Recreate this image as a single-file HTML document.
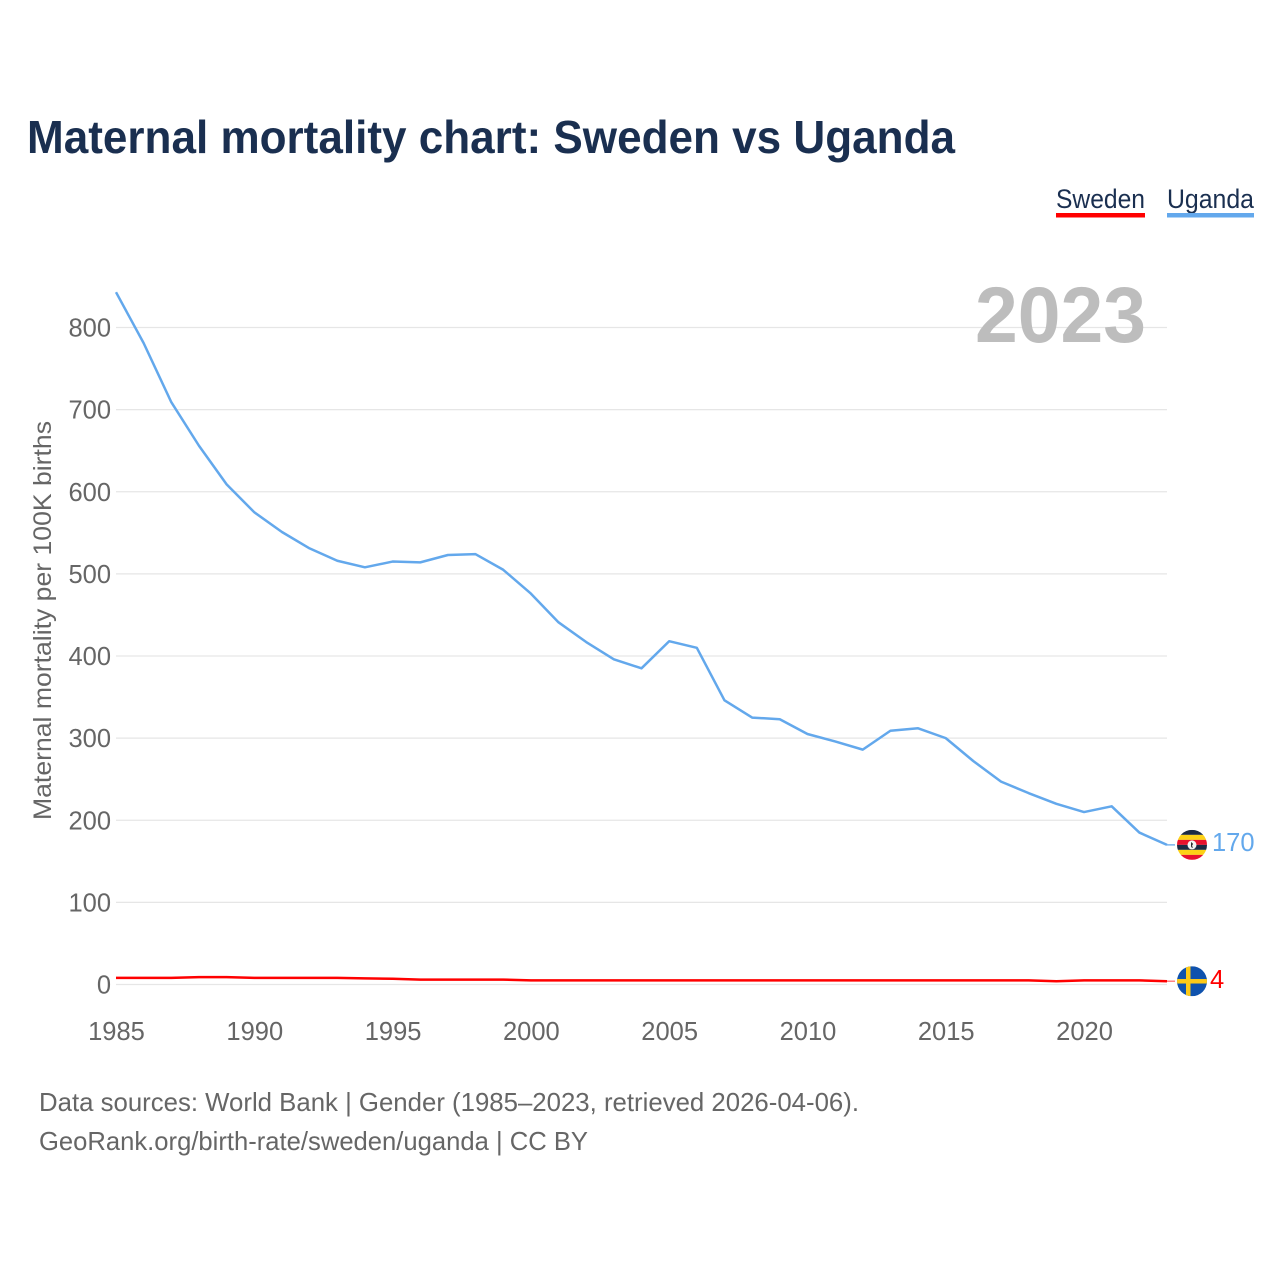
<!DOCTYPE html>
<html lang="en">
<head>
<meta charset="utf-8">
<title>Maternal mortality chart: Sweden vs Uganda</title>
<style>
html,body{margin:0;padding:0;background:#fff;}
svg{display:block;font-family:"Liberation Sans",sans-serif;}
</style>
</head>
<body>
<svg id="chart" width="1280" height="1280" viewBox="0 0 1280 1280" xmlns="http://www.w3.org/2000/svg">
  <defs>
    <clipPath id="flag-clip-ug"><circle cx="0" cy="0" r="15"/></clipPath>
    <clipPath id="flag-clip-se"><circle cx="0" cy="0" r="15"/></clipPath>
  </defs>
  <rect x="0" y="0" width="1280" height="1280" fill="#ffffff"/>
  <text x="27" y="153" font-size="46" font-weight="700" fill="#1a2f50" textLength="928" lengthAdjust="spacingAndGlyphs">Maternal mortality chart: Sweden vs Uganda</text>

  <g>
    <g>
      <text x="1056" y="208" font-size="27" fill="#1a2f50" textLength="89" lengthAdjust="spacingAndGlyphs">Sweden</text>
      <rect x="1056" y="213" width="89" height="4.5" fill="#ff0000"/>
    </g>
    <g>
      <text x="1167" y="208" font-size="27" fill="#1a2f50" textLength="87" lengthAdjust="spacingAndGlyphs">Uganda</text>
      <rect x="1167" y="213" width="87" height="4.5" fill="#63a8ec"/>
    </g>
  </g>

  <g id="grid"></g>
  <g id="y-ticks"></g>
  <g id="x-ticks"></g>

  <text transform="translate(51,820) rotate(-90)" x="0" y="0" font-size="25" fill="#666666" textLength="399" lengthAdjust="spacingAndGlyphs">Maternal mortality per 100K births</text>

  <text x="975" y="342" font-size="79" font-weight="700" fill="#bdbdbd" textLength="171" lengthAdjust="spacingAndGlyphs">2023</text>

  <g id="series"></g>

  <g id="flag-uganda">
    <g clip-path="url(#flag-clip-ug)">
      <rect x="-15" y="-15" width="30" height="5" fill="#1b2a44"/>
      <rect x="-15" y="-10" width="30" height="5" fill="#fcd116"/>
      <rect x="-15" y="-5" width="30" height="5" fill="#e8112d"/>
      <rect x="-15" y="0" width="30" height="5" fill="#1b2a44"/>
      <rect x="-15" y="5" width="30" height="5" fill="#fcd116"/>
      <rect x="-15" y="10" width="30" height="5" fill="#e8112d"/>
      <circle cx="0" cy="0" r="4.5" fill="#f4f4f4"/>
      <path d="M-0.8 -3 L1 -1 L0 1 L1.2 3 L-0.8 2.4 L-1 0 Z" fill="#222"/>
    </g>
  </g>
  <g id="flag-sweden">
    <g clip-path="url(#flag-clip-se)">
      <rect x="-15" y="-15" width="30" height="30" fill="#0f52ad"/>
      <rect x="-6" y="-15" width="4.5" height="30" fill="#fcc917"/>
      <rect x="-15" y="-2.2" width="30" height="4.5" fill="#fcc917"/>
    </g>
  </g>

  <text id="value-uganda" x="1212" font-size="25.5" fill="#63a8ec"></text>
  <text id="value-sweden" x="1210" font-size="25.5" fill="#ff0000"></text>

  <text x="39" y="1111" font-size="26" fill="#666666" textLength="820" lengthAdjust="spacingAndGlyphs">Data sources: World Bank | Gender (1985–2023, retrieved 2026-04-06).</text>
  <text x="39" y="1150" font-size="26" fill="#666666" textLength="549" lengthAdjust="spacingAndGlyphs">GeoRank.org/birth-rate/sweden/uganda | CC BY</text>
</svg>
<script>
const years = [1985,1986,1987,1988,1989,1990,1991,1992,1993,1994,1995,1996,1997,1998,1999,2000,2001,2002,2003,2004,2005,2006,2007,2008,2009,2010,2011,2012,2013,2014,2015,2016,2017,2018,2019,2020,2021,2022,2023];
const ugandaValues = [843,781,709,656,609,575,551,531,516,508,515,514,523,524,505,476,441,417,396,385,418,410,346,325,323,305,296,286,309,312,300,272,247,233,220,210,217,185,170];
const swedenValues = [8,8,8,9,9,8,8,8,8,7.5,7,6,6,6,6,5,5,5,5,5,5,5,5,5,5,5,5,5,5,5,5,5,5,5,4,5,5,5,4];
const yTickLabels = [0,100,200,300,400,500,600,700,800];
const xTickLabels = [1985,1990,1995,2000,2005,2010,2015,2020];

const SVG_NS = 'http://www.w3.org/2000/svg';
const xScale = function (year) { return 116 + (year - 1985) * (1167 - 116) / 38; };
const yScale = function (value) { return 984.5 - value * (984.5 - 327.5) / 800; };

const gridGroup = document.getElementById('grid');
const yTickGroup = document.getElementById('y-ticks');
const xTickGroup = document.getElementById('x-ticks');
const seriesGroup = document.getElementById('series');

yTickLabels.forEach(function (tick) {
  const line = document.createElementNS(SVG_NS, 'line');
  
  
  line.setAttribute('x1', 116);
  line.setAttribute('x2', 1167);
  line.setAttribute('y1', yScale(tick));
  line.setAttribute('y2', yScale(tick));
  line.setAttribute('stroke', '#e6e6e6');
  line.setAttribute('stroke-width', 1.3);
  gridGroup.appendChild(line);

  const label = document.createElementNS(SVG_NS, 'text');
  
  
  label.setAttribute('x', 111);
  label.setAttribute('y', yScale(tick) + 9);
  label.setAttribute('text-anchor', 'end');
  label.setAttribute('font-size', 25.5);
  label.setAttribute('fill', '#666666');
  label.textContent = tick;
  yTickGroup.appendChild(label);
});

xTickLabels.forEach(function (tick) {
  const label = document.createElementNS(SVG_NS, 'text');
  
  
  label.setAttribute('x', xScale(tick) + 0.5);
  label.setAttribute('y', 1040);
  label.setAttribute('text-anchor', 'middle');
  label.setAttribute('font-size', 25.5);
  label.setAttribute('fill', '#666666');
  label.textContent = tick;
  xTickGroup.appendChild(label);
});

function pathFor(values) {
  return values.map(function (v, i) {
    return (i === 0 ? 'M' : 'L') + xScale(years[i]).toFixed(2) + ' ' + yScale(v).toFixed(2);
  }).join(' ');
}

const ugandaLine = document.createElementNS(SVG_NS, 'path');


ugandaLine.setAttribute('d', pathFor(ugandaValues));
ugandaLine.setAttribute('fill', 'none');
ugandaLine.setAttribute('stroke', '#63a8ec');
ugandaLine.setAttribute('stroke-width', 2.5);
ugandaLine.setAttribute('stroke-linejoin', 'round');
seriesGroup.appendChild(ugandaLine);

const swedenLine = document.createElementNS(SVG_NS, 'path');


swedenLine.setAttribute('d', pathFor(swedenValues));
swedenLine.setAttribute('fill', 'none');
swedenLine.setAttribute('stroke', '#ff0000');
swedenLine.setAttribute('stroke-width', 2.5);
swedenLine.setAttribute('stroke-linejoin', 'round');
seriesGroup.appendChild(swedenLine);

const lastYear = years[years.length - 1];
const lastUganda = ugandaValues[ugandaValues.length - 1];
const lastSweden = swedenValues[swedenValues.length - 1];

const ugandaStub = document.createElementNS(SVG_NS, 'line');


ugandaStub.setAttribute('x1', xScale(lastYear));
ugandaStub.setAttribute('x2', xScale(lastYear) + 8);
ugandaStub.setAttribute('y1', yScale(lastUganda));
ugandaStub.setAttribute('y2', yScale(lastUganda));
ugandaStub.setAttribute('stroke', '#63a8ec');
ugandaStub.setAttribute('stroke-width', 1.3);
seriesGroup.appendChild(ugandaStub);

const swedenStub = document.createElementNS(SVG_NS, 'line');


swedenStub.setAttribute('x1', xScale(lastYear));
swedenStub.setAttribute('x2', xScale(lastYear) + 8);
swedenStub.setAttribute('y1', yScale(lastSweden));
swedenStub.setAttribute('y2', yScale(lastSweden));
swedenStub.setAttribute('stroke', '#ff8080');
swedenStub.setAttribute('stroke-width', 1.5);
seriesGroup.appendChild(swedenStub);

const markerX = xScale(lastYear) + 25;
document.getElementById('flag-uganda').setAttribute('transform', 'translate(' + markerX + ',' + yScale(lastUganda) + ')');
document.getElementById('flag-sweden').setAttribute('transform', 'translate(' + markerX + ',' + yScale(lastSweden) + ')');

const ugandaValueText = document.getElementById('value-uganda');
ugandaValueText.setAttribute('y', yScale(lastUganda) + 6);
ugandaValueText.textContent = lastUganda;

const swedenValueText = document.getElementById('value-sweden');
swedenValueText.setAttribute('y', yScale(lastSweden) + 7);
swedenValueText.textContent = lastSweden;
</script>
</body>
</html>
